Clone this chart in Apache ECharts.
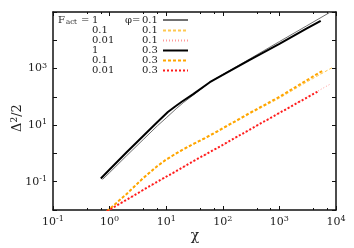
<!DOCTYPE html>
<html><head><meta charset="utf-8">
<script src="https://cdn.jsdelivr.net/npm/echarts@6/dist/echarts.min.js"></script>
<style>html,body{margin:0;padding:0;background:#fff}#c{width:354px;height:248px}</style>
</head><body><div id="c"></div>
<script>
// data (chi, Delta^2/2)
const chiF1p01 = [0.75, 1, 2, 4, 7, 10, 15, 20, 30, 59, 100, 300, 1000, 3000, 8000];
const yF1p01   = [0.12, 0.21, 0.83, 3.2, 9.5, 18, 38, 62, 115, 330, 620, 2200, 9000, 32000, 100000];
const chiF01p01 = [0.9, 2, 4, 7, 10, 15, 20, 30, 50, 100, 300, 1000, 3000, 8700];
const yF01p01   = [0.009, 0.036, 0.13, 0.34, 0.58, 0.96, 1.33, 2.05, 3.4, 7.3, 25, 90, 330, 1100];
const chiF001p01 = [0.9, 2, 5, 10, 30, 100, 300, 1000, 3000, 8100];
const yF001p01   = [0.009, 0.023, 0.066, 0.145, 0.52, 1.95, 6.9, 27, 95, 290];
const chiF1p03 = [0.7, 1, 2, 4, 7, 10.7, 14, 18.8, 30, 59, 100, 300, 1000, 3000, 5370];
const yF1p03   = [0.13, 0.27, 1.1, 4.3, 13, 29, 44, 67, 125, 330, 595, 2040, 7450, 25600, 49000];
const chiF01p03 = [0.9, 2, 4, 7, 10, 15, 20, 30, 50, 100, 300, 1000, 3000, 5800];
const yF01p03   = [0.009, 0.037, 0.14, 0.36, 0.61, 1.0, 1.4, 2.15, 3.6, 7.8, 27, 100, 380, 835];
const chiF001p03 = [0.9, 2, 5, 10, 30, 100, 300, 1000, 3000, 4800];
const yF001p03   = [0.009, 0.023, 0.068, 0.15, 0.53, 2.0, 7.0, 27, 92, 155];

const seriesNames = ['s1','s2','s3','s4','s5','s6'];
const legendFact = ['1', '0.1', '0.01', '1', '0.1', '0.01'];
const legendPhi  = ['0.1', '0.1', '0.1', '0.3', '0.3', '0.3'];
const xTickExps = [-1, 0, 1, 2, 3, 4];
const yTickExps = [-1, 1, 3];

const zip = (a, b) => a.map((v, i) => [v, b[i]]);
const chis = [chiF1p01, chiF01p01, chiF001p01, chiF1p03, chiF01p03, chiF001p03];
const ys = [yF1p01, yF01p01, yF001p01, yF1p03, yF01p03, yF001p03];
const styles = [
  {color: '#707070', width: 1, type: 'solid'},
  {color: '#ffc850', width: 1, type: [3, 2]},
  {color: '#ff9a9a', width: 1, type: [1, 2]},
  {color: '#000000', width: 2, type: 'solid'},
  {color: '#ffa500', width: 2, type: [3, 2]},
  {color: '#ff1a1a', width: 2, type: [2, 2]}
];

const FONT = 'DejaVu Serif';
const tickRich = {
  b: {fontFamily: FONT, fontSize: 11, lineHeight: 14, color: '#222'},
  s: {fontFamily: FONT, fontSize: 8, lineHeight: 6, verticalAlign: 'top', color: '#222'}
};
const expOf = v => Math.round(Math.log10(v));

const chart = echarts.init(document.getElementById('c'), null, {renderer: 'canvas'});
const frame = {show: true, lineStyle: {color: '#111', width: 1.5}};
const tick = {show: true, inside: true, length: 4, lineStyle: {color: '#111', width: 1}};
const minor = {show: true, splitNumber: 3, length: 2, lineStyle: {color: '#111', width: 1}};

const base = {fontFamily: FONT, fontSize: 10, lineHeight: 11, color: '#222', align: 'left'};
const legendRich = {
  f: Object.assign({}, base, {width: 8}),
  sub: Object.assign({}, base, {fontSize: 7, width: 15, lineHeight: 6, verticalAlign: 'bottom'}),
  eq: Object.assign({}, base, {width: 11}),
  pre: Object.assign({}, base, {width: 34}),
  v1: Object.assign({}, base, {width: 33}),
  phi: Object.assign({}, base, {width: 17}),
  v2: Object.assign({}, base, {width: 16})
};

chart.setOption({
  animation: false,
  backgroundColor: '#fff',
  grid: {left: 53, right: 18, top: 12, bottom: 38},
  legend: {
    show: true, orient: 'vertical', left: 58, top: 15, padding: 0, align: 'right',
    itemWidth: 25, itemHeight: 8, itemGap: 0,
    data: seriesNames,
    itemStyle: {color: 'rgba(0,0,0,0)', borderColor: 'rgba(0,0,0,0)', borderWidth: 0, opacity: 0},
    textStyle: {fontFamily: FONT, fontSize: 10, color: '#222', align: 'left', rich: legendRich},
    formatter: name => {
      const i = seriesNames.indexOf(name);
      const head = i === 0 ? '{f|F}{sub|act}{eq|=}' : '{pre|}';
      const ph = i === 0 ? '{phi|φ=}' : '{phi|}';
      return head + '{v1|' + legendFact[i] + '}' + ph + '{v2|' + legendPhi[i] + '}';
    }
  },
  xAxis: [
    {type: 'log', logBase: 10, min: 0.1, max: 10000, position: 'bottom',
     axisLine: frame, axisTick: tick, minorTick: minor, splitLine: {show: false},
     axisLabel: {margin: 5, formatter: v => xTickExps.includes(expOf(v)) ? '{b|10}{s|' + expOf(v) + '}' : '', rich: tickRich}},
    {type: 'log', logBase: 10, min: 0.1, max: 10000, position: 'top',
     axisLine: frame, axisTick: tick, minorTick: minor, splitLine: {show: false}, axisLabel: {show: false}}
  ],
  yAxis: [
    {type: 'log', logBase: 10, min: 0.01, max: 100000, position: 'left',
     axisLine: frame, axisTick: tick, splitLine: {show: false},
     axisLabel: {margin: 6, formatter: v => yTickExps.includes(expOf(v)) ? '{b|10}{s|' + expOf(v) + '}' : '', rich: tickRich}},
    {type: 'log', logBase: 10, min: 0.01, max: 100000, position: 'right',
     axisLine: frame, axisTick: tick, splitLine: {show: false}, axisLabel: {show: false}}
  ],
  series: seriesNames.map((n, i) => ({
    name: n, type: 'line', xAxisIndex: 0, yAxisIndex: 0,
    data: zip(chis[i], ys[i]), showSymbol: false, symbol: 'none',
    lineStyle: styles[i], itemStyle: {color: styles[i].color}, clip: true
  })),
  graphic: [
    {type: 'text', x: 195, y: 236, style: {text: 'χ', font: '14px "DejaVu Serif"', fill: '#222', align: 'center', verticalAlign: 'middle'}},
    {type: 'text', x: 18, y: 118, rotation: Math.PI / 2,
     style: {text: '{b|Δ}{s|2}{b|/2}', align: 'center', verticalAlign: 'middle',
       rich: {b: {fontFamily: FONT, fontSize: 13, lineHeight: 16, fill: '#222', color: '#222'},
              s: {fontFamily: FONT, fontSize: 9, lineHeight: 7, verticalAlign: 'top', fill: '#222', color: '#222'}}}}
  ]
});
</script></body></html>
